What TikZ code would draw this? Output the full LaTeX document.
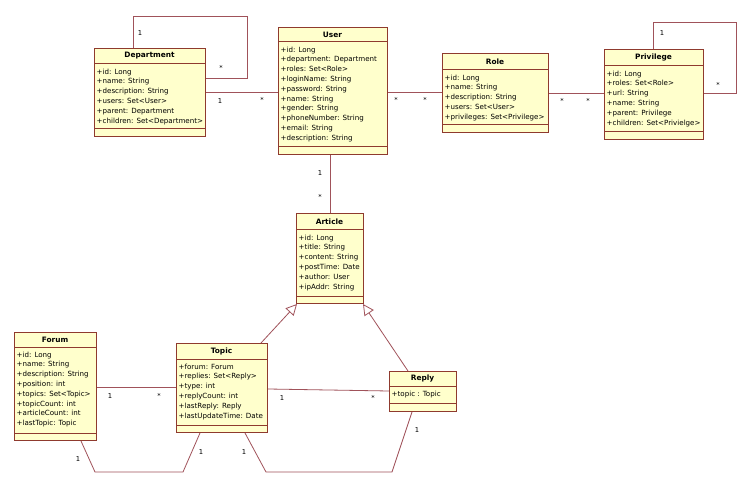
\documentclass[tikz,border=0pt]{standalone}
\usepackage{fontspec}
\setmainfont{DejaVu Sans}
\usetikzlibrary{arrows.meta}
\definecolor{boxfill}{HTML}{FFFFCC}
\definecolor{boxline}{HTML}{8F3A2E}
\definecolor{connclr}{HTML}{A0525A}
\tikzset{
 classbox/.style={draw=boxline, fill=boxfill, line width=1pt, inner sep=0, anchor=north west},
 sepline/.style={draw=boxline, line width=1pt},
 ctitle/.style={font=\fontsize{7.4}{8}\selectfont\bfseries, anchor=center, inner sep=0},
 cattr/.style={font=\fontsize{7.1}{9.8}\selectfont, align=left, anchor=north west, inner sep=0},
 conn/.style={draw=connclr, line width=0.8pt},
 mult/.style={font=\fontsize{6.8}{8}\selectfont, inner sep=0},
 gen/.style={conn, -{Triangle[open, length=11pt, width=11pt, fill=white]}},
}
\newcommand{\umlclass}[9]{%
 \node[classbox, minimum width={(#4-#2)*1pt}, minimum height={(#5-#3)*1pt}] (#1) at (#2,#3) {};
 \draw[sepline] (#2,#6) -- (#4,#6);
 \draw[sepline] (#2,#7) -- (#4,#7);
 \node[ctitle] (#1-t) at ({(#2+#4)/2},{(#3+#6)/2}) {#8};
 \node[cattr] (#1-a) at (#2+2.5,#6+4.5) {#9};
}
\begin{document}
\begin{tikzpicture}[x=1pt,y=-1pt]
\useasboundingbox[fill=white] (0,0) rectangle (750,481);

\coordinate (dl1) at (133,16); \coordinate (dl2) at (247,16); \coordinate (dl3) at (247,78);
\coordinate (pl1) at (653,22); \coordinate (pl2) at (736,22); \coordinate (pl3) at (736,93);
\coordinate (fl1) at (95,472); \coordinate (fl2) at (183,472);
\coordinate (tl1) at (266,472); \coordinate (tl2) at (392,472);

\umlclass{dept}{94}{48}{205}{136}{64}{129}{Department}{+id: Long\\+name: String\\+description: String\\+users: Set<User>\\+parent: Department\\+children: Set<Department>}
\umlclass{user}{278}{27}{387}{154}{42}{147}{User}{+id: Long\\+department: Department\\+roles: Set<Role>\\+loginName: String\\+password: String\\+name: String\\+gender: String\\+phoneNumber: String\\+email: String\\+description: String}
\umlclass{role}{442}{53}{548}{132}{70}{125}{Role}{+id: Long\\+name: String\\+description: String\\+users: Set<User>\\+privileges: Set<Privilege>}
\umlclass{priv}{604}{49}{703}{139}{66}{132}{Privilege}{+id: Long\\+roles: Set<Role>\\+url: String\\+name: String\\+parent: Privilege\\+children: Set<Privielge>}
\umlclass{article}{296}{213}{363}{303}{230}{296}{Article}{+id: Long\\+title: String\\+content: String\\+postTime: Date\\+author: User\\+ipAddr: String}
\umlclass{forum}{14}{332}{96}{440}{347}{433}{Forum}{+id: Long\\+name: String\\+description: String\\+position: int\\+topics: Set<Topic>\\+topicCount: int\\+articleCount: int\\+lastTopic: Topic}
\umlclass{topic}{176}{343}{267}{432}{359}{425}{Topic}{+forum: Forum\\+replies: Set<Reply>\\+type: int\\+replyCount: int\\+lastReply: Reply\\+lastUpdateTime: Date}
\umlclass{reply}{389}{371}{456}{411}{386}{403}{Reply}{+topic : Topic}

\draw[conn] (dept.north -| dl1) -- (dl1) -- (dl2) -- (dl3) -- (dept.east |- dl3);
\draw[conn] (priv.north -| pl1) -- (pl1) -- (pl2) -- (pl3) -- (priv.east |- pl3);
\draw[conn] (dept.east |- 0,92) -- (user.west |- 0,92);
\draw[conn] (user.east |- 0,92) -- (role.west |- 0,92);
\draw[conn] (role.east |- 0,93) -- (priv.west |- 0,93);
\draw[conn] (user.south -| 330,0) -- (article.north -| 330,0);
\draw[conn] (forum.east |- 0,387) -- (topic.west |- 0,387);
\draw[conn] (topic.east |- 0,389) -- (reply.west |- 0,391);
\draw[conn] (forum.south -| 81,0) -- (fl1) -- (fl2) -- (topic.south -| 200,0);
\draw[conn] (topic.south -| 245,0) -- (tl1) -- (tl2) -- (reply.south -| 412,0);
\draw[gen] (topic.north -| 261,0) -- (article.south -| 297,0);
\draw[gen] (reply.north -| 408,0) -- (article.south -| 363,0);

\node[mult] (m1) at (140,33) {1};
\node[mult] (m2) at (221,68) {*};
\node[mult] (m3) at (220,101) {1};
\node[mult] (m4) at (262,100) {*};
\node[mult] (m5) at (396,100) {*};
\node[mult] (m6) at (425,100) {*};
\node[mult] (m7) at (562,101) {*};
\node[mult] (m8) at (588,101) {*};
\node[mult] (m9) at (662,33) {1};
\node[mult] (m10) at (718,85) {*};
\node[mult] (m11) at (320,173) {1};
\node[mult] (m12) at (320,197) {*};
\node[mult] (m13) at (110,396) {1};
\node[mult] (m14) at (159,396) {*};
\node[mult] (m15) at (282,398) {1};
\node[mult] (m16) at (373,398) {*};
\node[mult] (m17) at (78,459) {1};
\node[mult] (m18) at (201,452) {1};
\node[mult] (m19) at (244,452) {1};
\node[mult] (m20) at (417,430) {1};
\end{tikzpicture}
\end{document}
